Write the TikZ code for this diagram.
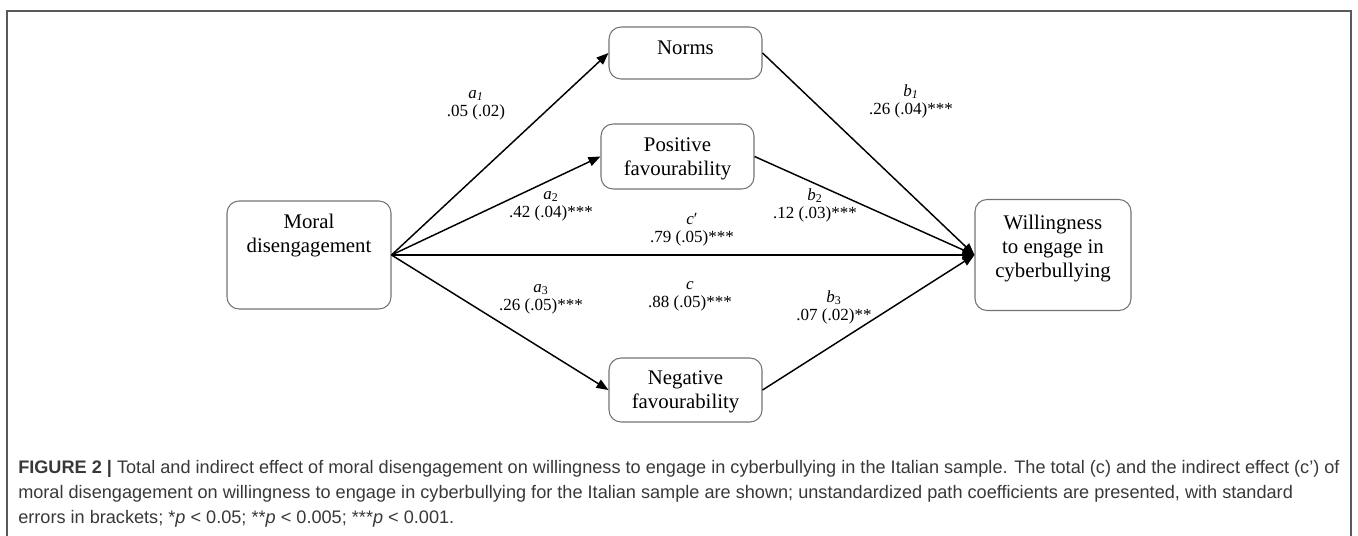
\documentclass[tikz,border=0pt]{standalone}
\usepackage{fontspec}
\setmainfont{Liberation Serif}
\newfontfamily\capfont{Liberation Sans}
\usetikzlibrary{arrows.meta}

\begin{document}
\begin{tikzpicture}[x=0.75pt, y=-0.75pt,
    >={Triangle[length=9pt,width=7pt]},
    box/.style={draw=black!55, line width=0.8pt, rounded corners=9pt},
    boxtext/.style={align=center, inner sep=0pt, font=\fontsize{15.6}{18}\selectfont},
    coef/.style={align=center, inner sep=0pt, font=\fontsize{12.75}{13.5}\selectfont},
    arrow/.style={->, line width=1.1pt},
    capline/.style={anchor=base west, inner sep=0pt, text=black!78, font=\capfont\fontsize{13.6}{17}\selectfont}]
    \useasboundingbox (0, 0) rectangle (1358, 535);
    \draw [black!65, line width=1.1pt] (7, 545) -- (7, 11) -- (1351, 11) -- (1351, 545); % frame
    % boxes
    \node [box, minimum width=123pt, minimum height=81pt] (0) at (309, 255) {};
    \node [boxtext] (0t) at (309, 236) {Moral\\disengagement};
    \node [box, minimum width=114.75pt, minimum height=39pt] (1) at (685.5, 53) {};
    \node [boxtext] (1t) at (685.5, 48) {Norms};
    \node [box, minimum width=114.75pt, minimum height=48.75pt] (2) at (677.5, 156.5) {};
    \node [boxtext] (2t) at (677.5, 158.5) {Positive\\favourability};
    \node [box, minimum width=114.75pt, minimum height=48pt] (3) at (685.5, 390) {};
    \node [boxtext] (3t) at (685.5, 391.5) {Negative\\favourability};
    \node [box, minimum width=117pt, minimum height=83.25pt] (4) at (1053, 255) {};
    \node [boxtext] (4t) at (1053, 249) {Willingness\\to engage in\\cyberbullying};
    % a paths
    \draw [arrow] (0.east) to (1.west);
    \draw [arrow] (0.east) to (2.west);
    \draw [arrow] (0.east) to (3.west);
    % b paths
    \draw [arrow] (1.east) to (4.west);
    \draw [arrow] (2.east) to (4.west);
    \draw [arrow] (3.east) to (4.west);
    % direct path
    \draw [arrow, line width=1.6pt] (0.east) to (4.west);
    % coefficients
    \node [coef] (5) at (476, 105) {\textit{a}\textsubscript{\textit{1}}\\.05 (.02)};
    \node [coef] (6) at (551, 206) {\textit{a}\textsubscript{2}\\.42 (.04)***};
    \node [coef] (7) at (541, 299) {\textit{a}\textsubscript{3}\\.26 (.05)***};
    \node [coef] (8) at (911, 101) {\textit{b}\textsubscript{\textit{1}}\\.26 (.04)***};
    \node [coef] (9) at (815, 205) {\textit{b}\textsubscript{2}\\.12 (.03)***};
    \node [coef] (10) at (834, 307) {\textit{b}\textsubscript{3}\\.07 (.02)**};
    \node [coef] (11) at (692, 230) {\textit{c}′\\.79 (.05)***};
    \node [coef] (12) at (690, 296) {\textit{c}\\.88 (.05)***};
    % caption
    \node [capline] (13) at (18, 473) {\textbf{FIGURE 2 |} Total and indirect effect of moral disengagement on willingness to engage in cyberbullying in the Italian sample. The total (c) and the indirect effect (c’) of};
    \node [capline] (14) at (18, 498) {moral disengagement on willingness to engage in cyberbullying for the Italian sample are shown; unstandardized path coefficients are presented, with standard};
    \node [capline] (15) at (18, 523) {errors in brackets; *\textit{p} < 0.05; **\textit{p} < 0.005; ***\textit{p} < 0.001.};
\end{tikzpicture}
\end{document}
